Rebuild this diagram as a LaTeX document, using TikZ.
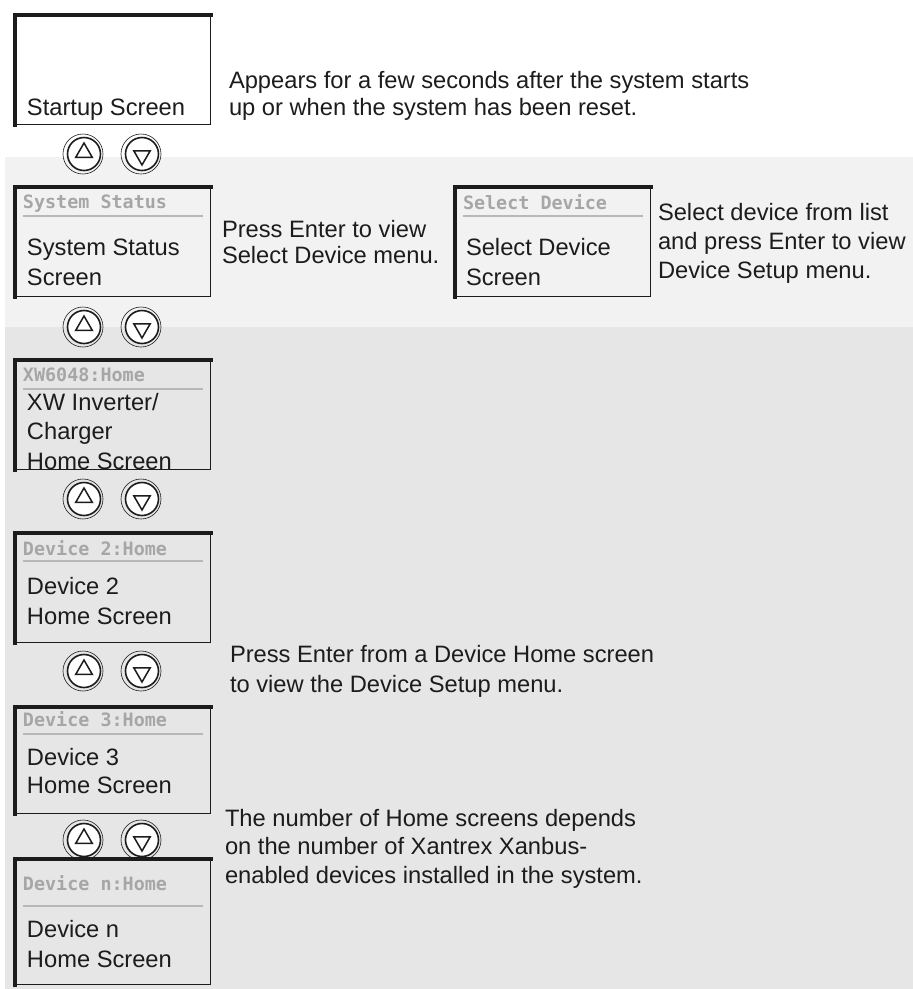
\documentclass[tikz,border=0pt]{standalone}
\usepackage{fontspec}
\setmainfont{Liberation Sans}
\newfontfamily\lcdfont{DejaVu Sans Mono}
\usetikzlibrary{shapes.geometric}

\definecolor{bandlight}{HTML}{F2F2F2}
\definecolor{banddark}{HTML}{E6E6E6}
\definecolor{lcdgrey}{HTML}{A6A6A6}
\definecolor{rulegrey}{HTML}{B8B8B8}
\definecolor{ink}{HTML}{1C1C1C}

\begin{document}
\begin{tikzpicture}[
    x=1pt, y=-1pt,
    every node/.style={inner sep=0pt, outer sep=0pt},
    screen/.style={draw=ink, line width=1.3pt, minimum width=196pt, minimum height=110pt, anchor=north west},
    rim/.style={draw=ink, line width=4pt, line cap=rect},
    lcd/.style={anchor=base west, text=lcdgrey, font=\lcdfont\bfseries\fontsize{18.4}{20}\selectfont},
    lcdrule/.style={draw=rulegrey, line width=2pt},
    % multi-line nodes: base = baseline of the last line
    body/.style={anchor=base west, align=left, text=ink, font=\fontsize{23.7}{29.5}\selectfont},
    note/.style={anchor=base west, align=left, text=ink, font=\fontsize{23.7}{28.5}\selectfont},
    key/.style={circle, draw=ink, line width=1.6pt, fill=white, minimum size=33pt},
    keyring/.style={circle, draw=ink, line width=0.6pt, minimum size=40pt},
    keytri/.style={regular polygon, regular polygon sides=3, draw=ink, line width=1.5pt, minimum size=19pt}
]
\useasboundingbox (0,0) rectangle (913,989);

% background bands
\fill[bandlight] (5,157) rectangle (913,327);
\fill[banddark] (5,327) rectangle (913,989);

% screens
\node[screen] (startup) at (14.7,14.7) {};
\node[screen] (sysstat) at (14.7,186.7) {};
\node[screen] (seldev) at (454.7,186.7) {};
\node[screen] (xwhome) at (14.7,359.7) {};
\node[screen] (devtwo) at (14.7,532.7) {};
\node[screen, minimum height=107pt] (devthree) at (14.7,706.7) {};
\node[screen, minimum height=126pt] (devn) at (14.7,858.7) {};

\foreach \s in {startup,sysstat,seldev,xwhome,devtwo,devthree,devn}
    \draw[rim] (\s.south west) -- (\s.north west) -- (\s.north east);

% screen titles
\node[lcd] (sysstattitle) at (23,208) {System Status};
\draw[lcdrule] (23,216) -- (203,216);
\node[lcd] (seldevtitle) at (463,209) {Select Device};
\draw[lcdrule] (463,216) -- (643,216);
\node[lcd] (xwtitle) at (23,381) {XW6048:Home};
\draw[lcdrule] (23,389) -- (203,389);
\node[lcd] (devtwotitle) at (23,555) {Device 2:Home};
\draw[lcdrule] (23,561) -- (203,561);
\node[lcd] (devthreetitle) at (23,726) {Device 3:Home};
\draw[lcdrule] (23,734) -- (203,734);
\node[lcd] (devntitle) at (23,890) {Device n:Home};
\draw[lcdrule] (23,906) -- (203,906);

% screen texts
\node[body] (startuptext) at (27,115) {Startup Screen};
\node[body] (sysstattext) at (27,285) {System Status\\Screen};
\node[body] (seldevtext) at (466,285) {Select Device\\Screen};
\node[body] (xwtext) at (27,469) {XW Inverter/\\Charger\\Home Screen};
\node[body] (devtwotext) at (27,624) {Device 2\\Home Screen};
\node[body, font=\fontsize{23.7}{28}\selectfont] (devthreetext) at (27,793) {Device 3\\Home Screen};
\node[body] (devntext) at (27,967) {Device n\\Home Screen};

% notes
\node[note, font=\fontsize{23.7}{27}\selectfont] (startupnote) at (229,115) {Appears for a few seconds after the system starts\\up or when the system has been reset.};
\node[note, font=\fontsize{23.7}{26}\selectfont] (sysstatnote) at (222,263) {Press Enter to view\\Select Device menu.};
\node[note, font=\fontsize{23.7}{29}\selectfont] (seldevnote) at (658,278) {Select device from list\\and press Enter to view\\Device Setup menu.};
\node[note, font=\fontsize{23.7}{30}\selectfont] (homenote) at (230,692) {Press Enter from a Device Home screen\\to view the Device Setup menu.};
\node[note] (countnote) at (225,883) {The number of Home screens depends\\on the number of Xantrex Xanbus-\\enabled devices installed in the system.};

% up/down keys
\foreach \row/\yy in {1/154,2/327,3/499,4/671,5/840} {
    \node[keyring] (upring\row) at (83,\yy) {};
    \node[keyring] (dnring\row) at (141,\yy) {};
    \node[key] (up\row) at (84,\yy) {};
    \node[key] (dn\row) at (142,\yy) {};
    \node[keytri] at ([yshift=1.5pt]up\row.center) {};
    \node[keytri, shape border rotate=180] at ([yshift=-1.5pt]dn\row.center) {};
}

\end{tikzpicture}
\end{document}
